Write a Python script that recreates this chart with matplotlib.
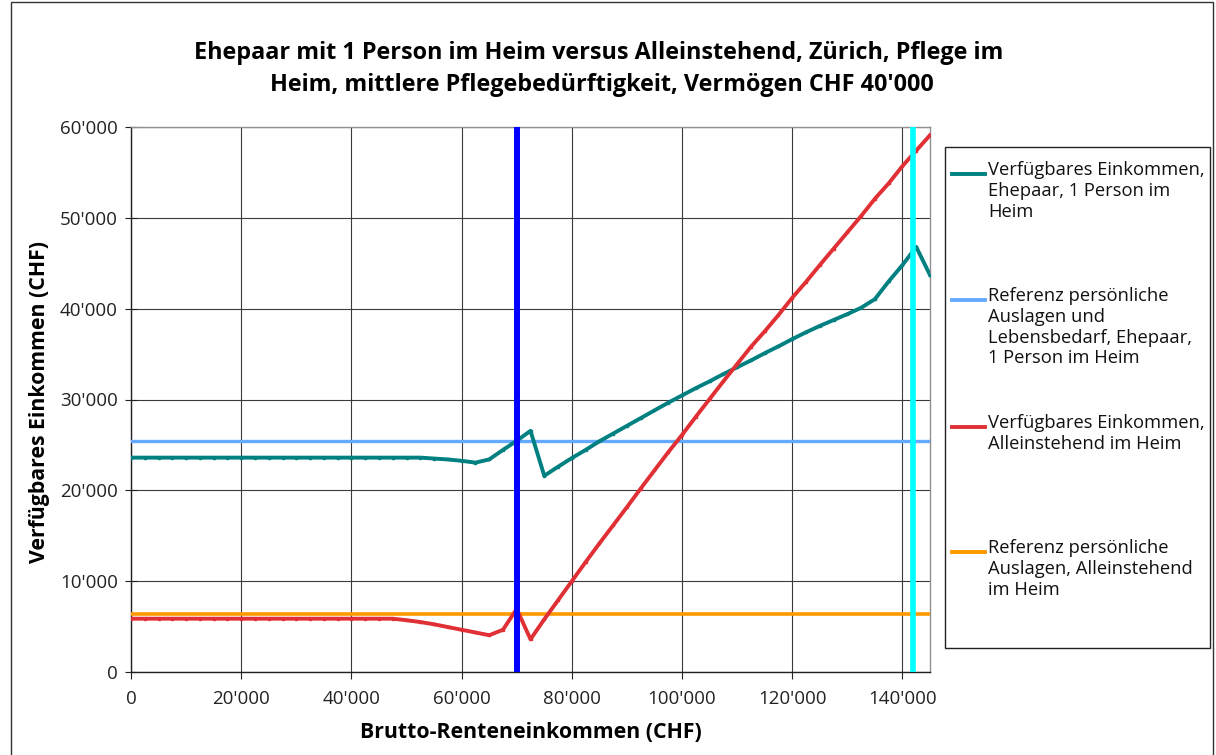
import matplotlib
matplotlib.use("Agg")
import matplotlib.pyplot as plt
from matplotlib.lines import Line2D
from matplotlib.patches import Rectangle
from matplotlib.ticker import FuncFormatter

plt.rcParams['font.family'] = ['Open Sans', 'DejaVu Sans']

# --------------------------------------------------------------------------------
# DATA
# --------------------------------------------------------------------------------
brutto = [
    0, 2500, 5000, 7500, 10000, 12500, 15000, 17500, 20000, 22500,
    25000, 27500, 30000, 32500, 35000, 37500, 40000, 42500, 45000, 47500,
    50000, 52500, 55000, 57500, 60000, 62500, 65000, 67500, 70000, 72500,
    75000, 77500, 80000, 82500, 85000, 87500, 90000, 92500, 95000, 97500,
    100000, 102500, 105000, 107500, 110000, 112500, 115000, 117500, 120000, 122500,
    125000, 127500, 130000, 132500, 135000, 137500, 140000, 142500, 145000,
]

einkommen_ehepaar = [
    23600, 23600, 23600, 23600, 23600, 23600, 23600, 23600, 23600, 23600,
    23600, 23600, 23600, 23600, 23600, 23600, 23600, 23600, 23600, 23600,
    23600, 23600, 23500, 23400, 23250, 23050, 23400, 24450, 25450, 26550,
    21600, 22600, 23550, 24450, 25400, 26250, 27100, 27950, 28800, 29650,
    30450, 31250, 32000, 32800, 33550, 34300, 35100, 35850, 36650, 37400,
    38100, 38750, 39400, 40100, 41050, 43000, 44800, 46800, 43700,
]

einkommen_allein = [
    5870, 5870, 5870, 5870, 5870, 5870, 5870, 5870, 5870, 5870,
    5870, 5870, 5870, 5870, 5870, 5870, 5870, 5870, 5870, 5870,
    5700, 5500, 5250, 4950, 4650, 4350, 4050, 4650, 6950, 3600,
    5800, 7900, 10000, 12100, 14150, 16150, 18150, 20200, 22200, 24200,
    26100, 28100, 30050, 32000, 33900, 35800, 37500, 39300, 41200, 42950,
    44800, 46600, 48400, 50200, 52100, 53800, 55700, 57400, 59100,
]

ref_ehepaar = 25450   # Referenz persoenliche Auslagen und Lebensbedarf, Ehepaar
ref_allein = 6350     # Referenz persoenliche Auslagen, Alleinstehend
vline_blue = 70000
vline_cyan = 142000

x_ticks = [0, 20000, 40000, 60000, 80000, 100000, 120000, 140000]
y_ticks = [0, 10000, 20000, 30000, 40000, 50000, 60000]

legend_labels = [
    "Verfügbares Einkommen,\nEhepaar, 1 Person im\nHeim",
    "Referenz persönliche\nAuslagen und\nLebensbedarf, Ehepaar,\n1 Person im Heim",
    "Verfügbares Einkommen,\nAlleinstehend im Heim",
    "Referenz persönliche\nAuslagen, Alleinstehend\nim Heim",
]

# colors
teal = "#008080"
lightblue = "#66AAFF"
red = "#E03035"
orange = "#FF9900"

# --------------------------------------------------------------------------------
# HELPERS
# --------------------------------------------------------------------------------
W, H = 1216, 755

def fx(px):
    return px / W

def fy(py):
    return 1 - py / H

def chf(v, pos):
    if v == 0:
        return "0"
    return "{:,}".format(int(v)).replace(",", "'")

# --------------------------------------------------------------------------------
# PLOT
# --------------------------------------------------------------------------------
fig = plt.figure(figsize=(W / 100, H / 100), dpi=100)
ax = fig.add_axes([fx(131), fy(672), fx(930) - fx(131), fy(127) - fy(672)])

ax.plot(brutto, einkommen_ehepaar, color=teal, lw=2.8, marker='s', ms=1.8, zorder=4)
ax.axhline(ref_ehepaar, color=lightblue, lw=2.4, zorder=3)
ax.plot(brutto, einkommen_allein, color=red, lw=2.8, marker='s', ms=1.8, zorder=4)
ax.axhline(ref_allein, color=orange, lw=2.6, zorder=3)
ax.axvline(vline_blue, color="#0000FF", lw=4.3, zorder=5)
ax.axvline(vline_cyan, color="#00FFFF", lw=4.0, zorder=5)

ax.set_xlim(0, 145000)
ax.set_ylim(0, 60000)
ax.set_xticks(x_ticks)
ax.set_yticks(y_ticks)
ax.xaxis.set_major_formatter(FuncFormatter(chf))
ax.yaxis.set_major_formatter(FuncFormatter(chf))
ax.grid(True, color="#3a3a3a", lw=0.8)
ax.set_axisbelow(True)
ax.tick_params(axis='y', direction='inout', length=9, width=0.8, labelsize=13.5, pad=5, colors='#222222')
ax.tick_params(axis='x', direction='out', length=5, width=0.8, labelsize=13.5, pad=8, colors='#222222')
for s in ['left', 'bottom']:
    ax.spines[s].set_color('#222222')
    ax.spines[s].set_linewidth(1.0)
for s in ['top', 'right']:
    ax.spines[s].set_color('#909090')
    ax.spines[s].set_linewidth(1.0)

# (titles / axis labels)
fig.text(fx(599), fy(53), "Ehepaar mit 1 Person im Heim versus Alleinstehend, Zürich, Pflege im",
         ha='center', va='center', fontsize=16.8, fontweight='bold')
fig.text(fx(602), fy(85), "Heim, mittlere Pflegebedürftigkeit, Vermögen CHF 40'000",
         ha='center', va='center', fontsize=16.8, fontweight='bold')
fig.text(fx(531), fy(733), "Brutto-Renteneinkommen (CHF)", ha='center', va='center',
         fontsize=15.3, fontweight='bold')
fig.text(fx(40), fy(402), "Verfügbares Einkommen (CHF)", ha='center', va='center',
         rotation=90, fontsize=15.3, fontweight='bold')

# (legend drawn by hand, Excel style: handle next to the first text line)
fig.patches.append(Rectangle((fx(945), fy(648)), fx(1210) - fx(945), fy(147) - fy(648),
                             transform=fig.transFigure, fill=False, ec='#222222', lw=1.0))
legend_colors = [teal, lightblue, red, orange]
legend_y = [174, 300, 427, 552]
for lab, col, py in zip(legend_labels, legend_colors, legend_y):
    fig.lines.append(Line2D([fx(952), fx(985)], [fy(py), fy(py)], transform=fig.transFigure,
                            color=col, lw=2.8))
    fig.text(fx(988), fy(py - 13), lab, ha='left', va='top', fontsize=13.2,
             linespacing=1.2, color='#111111')

# (outer frame)
fig.patches.append(Rectangle((fx(11), -0.05), fx(1213) - fx(11), fy(2) + 0.05,
                             transform=fig.transFigure, fill=False, ec='#333333', lw=1.0))

fig.savefig("out.png", dpi=100)
